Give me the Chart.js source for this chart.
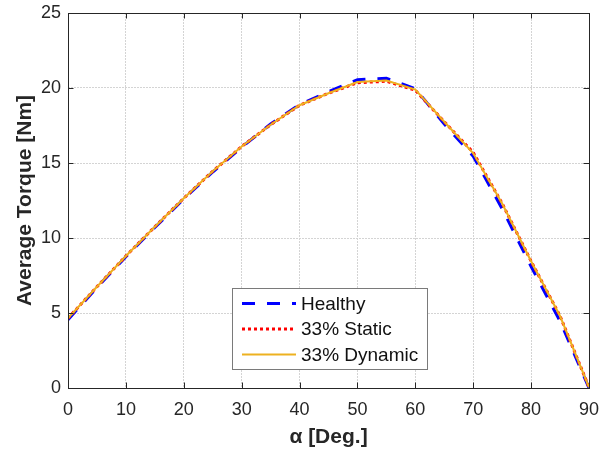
<!DOCTYPE html>
<html>
<head>
<meta charset="utf-8">
<script src="https://cdn.jsdelivr.net/npm/chart.js@4/dist/chart.umd.min.js"></script>
<style>
  html, body { margin: 0; padding: 0; background: #fff; }
  #wrap { width: 605px; height: 449px; }
</style>
</head>
<body>
<div id="wrap"><canvas id="torqueChart" width="605" height="449"></canvas></div>
<script>
// Average torque vs. rotor angle alpha
const alpha = [0, 5, 10, 15, 20, 25, 30, 35, 40, 45, 50, 55, 60, 65, 70, 75, 80, 85, 90];
const healthy = [4.55, 6.7, 8.75, 10.7, 12.6, 14.4, 16.05, 17.6, 18.9, 19.75, 20.55, 20.65, 19.95, 17.6, 15.45, 11.95, 8.1, 4.45, 0.0];
const static33 = [4.65, 6.75, 8.8, 10.75, 12.65, 14.45, 16.1, 17.55, 18.85, 19.65, 20.35, 20.45, 19.85, 17.75, 15.7, 12.3, 8.45, 4.8, 0.05];
const dynamic33 = [4.65, 6.75, 8.8, 10.75, 12.65, 14.45, 16.1, 17.55, 18.85, 19.65, 20.4, 20.5, 19.9, 17.75, 15.65, 12.3, 8.45, 4.8, 0.05];

const xTicks = [0, 10, 20, 30, 40, 50, 60, 70, 80, 90];
const yTicks = [0, 5, 10, 15, 20, 25];

const FONT = '"Liberation Sans", Arial, Helvetica, sans-serif';
const INK = '#262626';

const toPoints = (ys) => alpha.map((a, i) => ({ x: a, y: ys[i] }));

// box around the axes with inward ticks on all four sides
const axesBox = {
  id: 'axesBox',
  afterDatasetsDraw(chart) {
    const { ctx, chartArea: a, scales } = chart;
    const len = 5.5;
    ctx.save();
    ctx.strokeStyle = INK;
    ctx.lineWidth = 1;
    ctx.beginPath();
    xTicks.forEach(v => {
      const px = Math.round(scales.x.getPixelForValue(v)) + 0.5;
      ctx.moveTo(px, a.bottom); ctx.lineTo(px, a.bottom - len);
      ctx.moveTo(px, a.top); ctx.lineTo(px, a.top + len);
    });
    yTicks.forEach(v => {
      const py = Math.round(scales.y.getPixelForValue(v)) + 0.5;
      ctx.moveTo(a.left, py); ctx.lineTo(a.left + len, py);
      ctx.moveTo(a.right, py); ctx.lineTo(a.right - len, py);
    });
    ctx.stroke();
    ctx.strokeRect(Math.round(a.left) + 0.5, Math.round(a.top) + 0.5,
                   Math.round(a.right - a.left), Math.round(a.bottom - a.top));
    ctx.restore();
  }
};

// legend box drawn inside the plot, using each dataset's own line style
const boxLegend = {
  id: 'boxLegend',
  afterDraw(chart) {
    const { ctx } = chart;
    const bx = 232, by = 288, bw = 195, bh = 81;
    const rows = [303.5, 329, 354.5];
    ctx.save();
    ctx.fillStyle = '#fff';
    ctx.fillRect(bx, by, bw, bh);
    ctx.strokeStyle = '#7a7a7a';
    ctx.lineWidth = 1;
    ctx.strokeRect(bx + 0.5, by + 0.5, bw, bh);
    chart.data.datasets.forEach((ds, i) => {
      const y = rows[i];
      ctx.beginPath();
      ctx.setLineDash(ds.borderDash || []);
      ctx.lineWidth = ds.borderWidth;
      ctx.strokeStyle = ds.borderColor;
      ctx.moveTo(242, y);
      ctx.lineTo(296, y);
      ctx.stroke();
      ctx.setLineDash([]);
      ctx.fillStyle = '#111';
      ctx.font = '19px ' + FONT;
      ctx.textBaseline = 'middle';
      ctx.textAlign = 'left';
      ctx.fillText(ds.label, 301, y + 1);
    });
    ctx.restore();
  }
};

new Chart(document.getElementById('torqueChart'), {
  type: 'line',
  data: {
    datasets: [
      { label: 'Healthy', data: toPoints(healthy), borderColor: '#0000ff', borderWidth: 3, borderDash: [13, 12], order: 3 },
      { label: '33% Static', data: toPoints(static33), borderColor: '#ff0000', borderWidth: 3, borderDash: [3, 3], order: 2 },
      { label: '33% Dynamic', data: toPoints(dynamic33), borderColor: '#edb120', borderWidth: 2, order: 1 }
    ]
  },
  options: {
    responsive: false,
    animation: false,
    layout: { padding: { top: 13, right: 16, left: 0, bottom: 0 } },
    elements: { point: { radius: 0 }, line: { tension: 0, borderCapStyle: 'butt' } },
    plugins: { legend: { display: false }, tooltip: { enabled: false } },
    scales: {
      x: {
        type: 'linear', min: 0, max: 90,
        afterBuildTicks: (s) => { s.ticks = xTicks.map(v => ({ value: v })); },
        afterFit: (s) => { s.height = 61; s.paddingLeft = 0; s.paddingRight = 0; },
        grid: { color: '#d4d4d4', lineWidth: 1, drawTicks: false },
        border: { display: false, dash: [2, 1] },
        ticks: { color: INK, font: { family: FONT, size: 18 }, padding: 11, maxRotation: 0 },
        title: { display: true, text: 'α [Deg.]', color: INK, font: { family: FONT, size: 21, weight: 'bold' }, padding: { top: 0, bottom: -1 } }
      },
      y: {
        type: 'linear', min: 0, max: 25,
        afterBuildTicks: (s) => { s.ticks = yTicks.map(v => ({ value: v })); },
        afterFit: (s) => { s.width = 68; s.paddingTop = 0; s.paddingBottom = 0; },
        grid: { color: '#d4d4d4', lineWidth: 1, drawTicks: false },
        border: { display: false, dash: [2, 1] },
        ticks: { color: INK, font: { family: FONT, size: 18 }, padding: 7 },
        title: { display: true, text: 'Average Torque [Nm]', color: INK, font: { family: FONT, size: 21, weight: 'bold' }, padding: { top: 13, bottom: 0 } }
      }
    }
  },
  plugins: [axesBox, boxLegend]
});
</script>
</body>
</html>
